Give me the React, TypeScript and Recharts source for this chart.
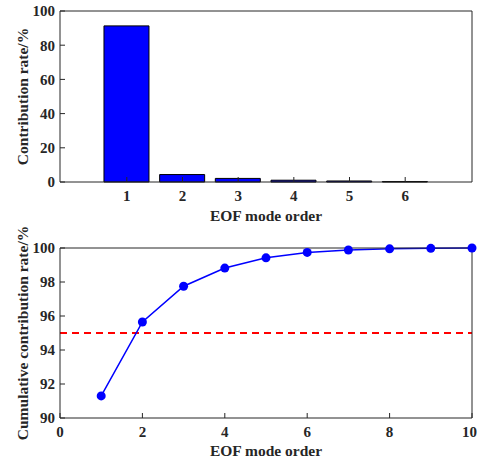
import {
  BarChart,
  Bar,
  LineChart,
  Line,
  XAxis,
  YAxis,
  ReferenceLine,
} from "recharts";

// Contribution rate of each EOF mode (%)
const modes = [1, 2, 3, 4, 5, 6];
const contribution = [91.3, 4.35, 2.1, 1.05, 0.6, 0.3];

// Cumulative contribution rate (%)
const orders = [1, 2, 3, 4, 5, 6, 7, 8, 9, 10];
const cumulative = [91.3, 95.65, 97.75, 98.82, 99.42, 99.74, 99.88, 99.95, 99.98, 100];

const barTicks = [1, 2, 3, 4, 5, 6];
const barYTicks = [0, 20, 40, 60, 80, 100];
const lineXTicks = [0, 2, 4, 6, 8, 10];
const lineYTicks = [90, 92, 94, 96, 98, 100];
const threshold = 95;

const barData = modes.map((m, i) => ({ mode: m, value: contribution[i] }));
const lineData = orders.map((o, i) => ({ order: o, value: cumulative[i] }));

const axisColor = "#262626";
const font = "'Liberation Serif', 'Times New Roman', serif";
const tickStyle = { fill: axisColor, fontSize: 15, fontWeight: "bold", fontFamily: font, style: { fontWeight: "bold" } };
const labelStyle = { fill: axisColor, fontSize: 15.5, fontWeight: "bold" as const, fontFamily: font, textAnchor: "middle" as const };

export default function App() {
  return (
    <div style={{ position: "absolute", left: 0, top: 0, width: 477, height: 460, background: "#fff" }}>
      {/* upper panel: contribution of each mode */}
      <div style={{ position: "absolute", left: 0, top: 0 }}>
        <BarChart
          width={477}
          height={230}
          data={barData}
          margin={{ top: 10, right: 4, bottom: 0, left: 0 }}
        >
          <XAxis
            dataKey="mode"
            type="number"
            domain={[-0.2, 7.2]}
            ticks={barTicks}
            height={48}
            stroke={axisColor}
            tickSize={-5}
            tickMargin={13}
            tick={tickStyle}
            label={{ value: "EOF mode order", position: "insideBottom", offset: 9, style: labelStyle }}
          />
          <XAxis
            xAxisId="top"
            orientation="top"
            dataKey="mode"
            type="number"
            domain={[-0.2, 7.2]}
            ticks={barTicks}
            height={1}
            stroke={axisColor}
            tickSize={-5}
            tick={false}
          />
          <YAxis
            type="number"
            domain={[0, 100]}
            ticks={barYTicks}
            width={60}
            stroke={axisColor}
            tickSize={-5}
            tickMargin={10}
            tick={tickStyle}
            label={{ value: "Contribution rate/%", angle: -90, position: "insideLeft", offset: 22, style: labelStyle }}
          />
          <YAxis
            yAxisId="right"
            orientation="right"
            type="number"
            domain={[0, 100]}
            ticks={barYTicks}
            width={1}
            stroke={axisColor}
            tickSize={-5}
            tick={false}
          />
          <Bar dataKey="value" fill="#0000ff" stroke="#000" strokeWidth={1} barSize={45} isAnimationActive={false} />
        </BarChart>
      </div>
      {/* lower panel: cumulative contribution */}
      <div style={{ position: "absolute", left: 0, top: 222 }}>
        <LineChart
          width={477}
          height={238}
          data={lineData}
          margin={{ top: 25, right: 4, bottom: 0, left: 0 }}
        >
          <XAxis
            dataKey="order"
            type="number"
            domain={[0, 10]}
            ticks={lineXTicks}
            height={42}
            stroke={axisColor}
            tickSize={-5}
            tickMargin={13}
            tick={tickStyle}
            label={{ value: "EOF mode order", position: "insideBottom", offset: 4, style: labelStyle }}
          />
          <XAxis
            xAxisId="top"
            orientation="top"
            dataKey="order"
            type="number"
            domain={[0, 10]}
            ticks={lineXTicks}
            height={1}
            stroke={axisColor}
            tickSize={-5}
            tick={false}
          />
          <YAxis
            type="number"
            domain={[90, 100]}
            ticks={lineYTicks}
            width={60}
            stroke={axisColor}
            tickSize={-5}
            tickMargin={10}
            tick={tickStyle}
            label={{ value: "Cumulative contribution rate/%", angle: -90, position: "insideLeft", offset: 22, style: labelStyle }}
          />
          <YAxis
            yAxisId="right"
            orientation="right"
            type="number"
            domain={[90, 100]}
            ticks={lineYTicks}
            width={1}
            stroke={axisColor}
            tickSize={-5}
            tick={false}
          />
          <ReferenceLine y={threshold} stroke="#ff0000" strokeWidth={2} strokeDasharray="7 5" />
          <Line
            dataKey="value"
            stroke="#0000ff"
            strokeWidth={1.5}
            dot={{ r: 4.5, fill: "#0000ff", stroke: "#0000ff", strokeWidth: 0 }}
            isAnimationActive={false}
          />
        </LineChart>
      </div>
    </div>
  );
}
